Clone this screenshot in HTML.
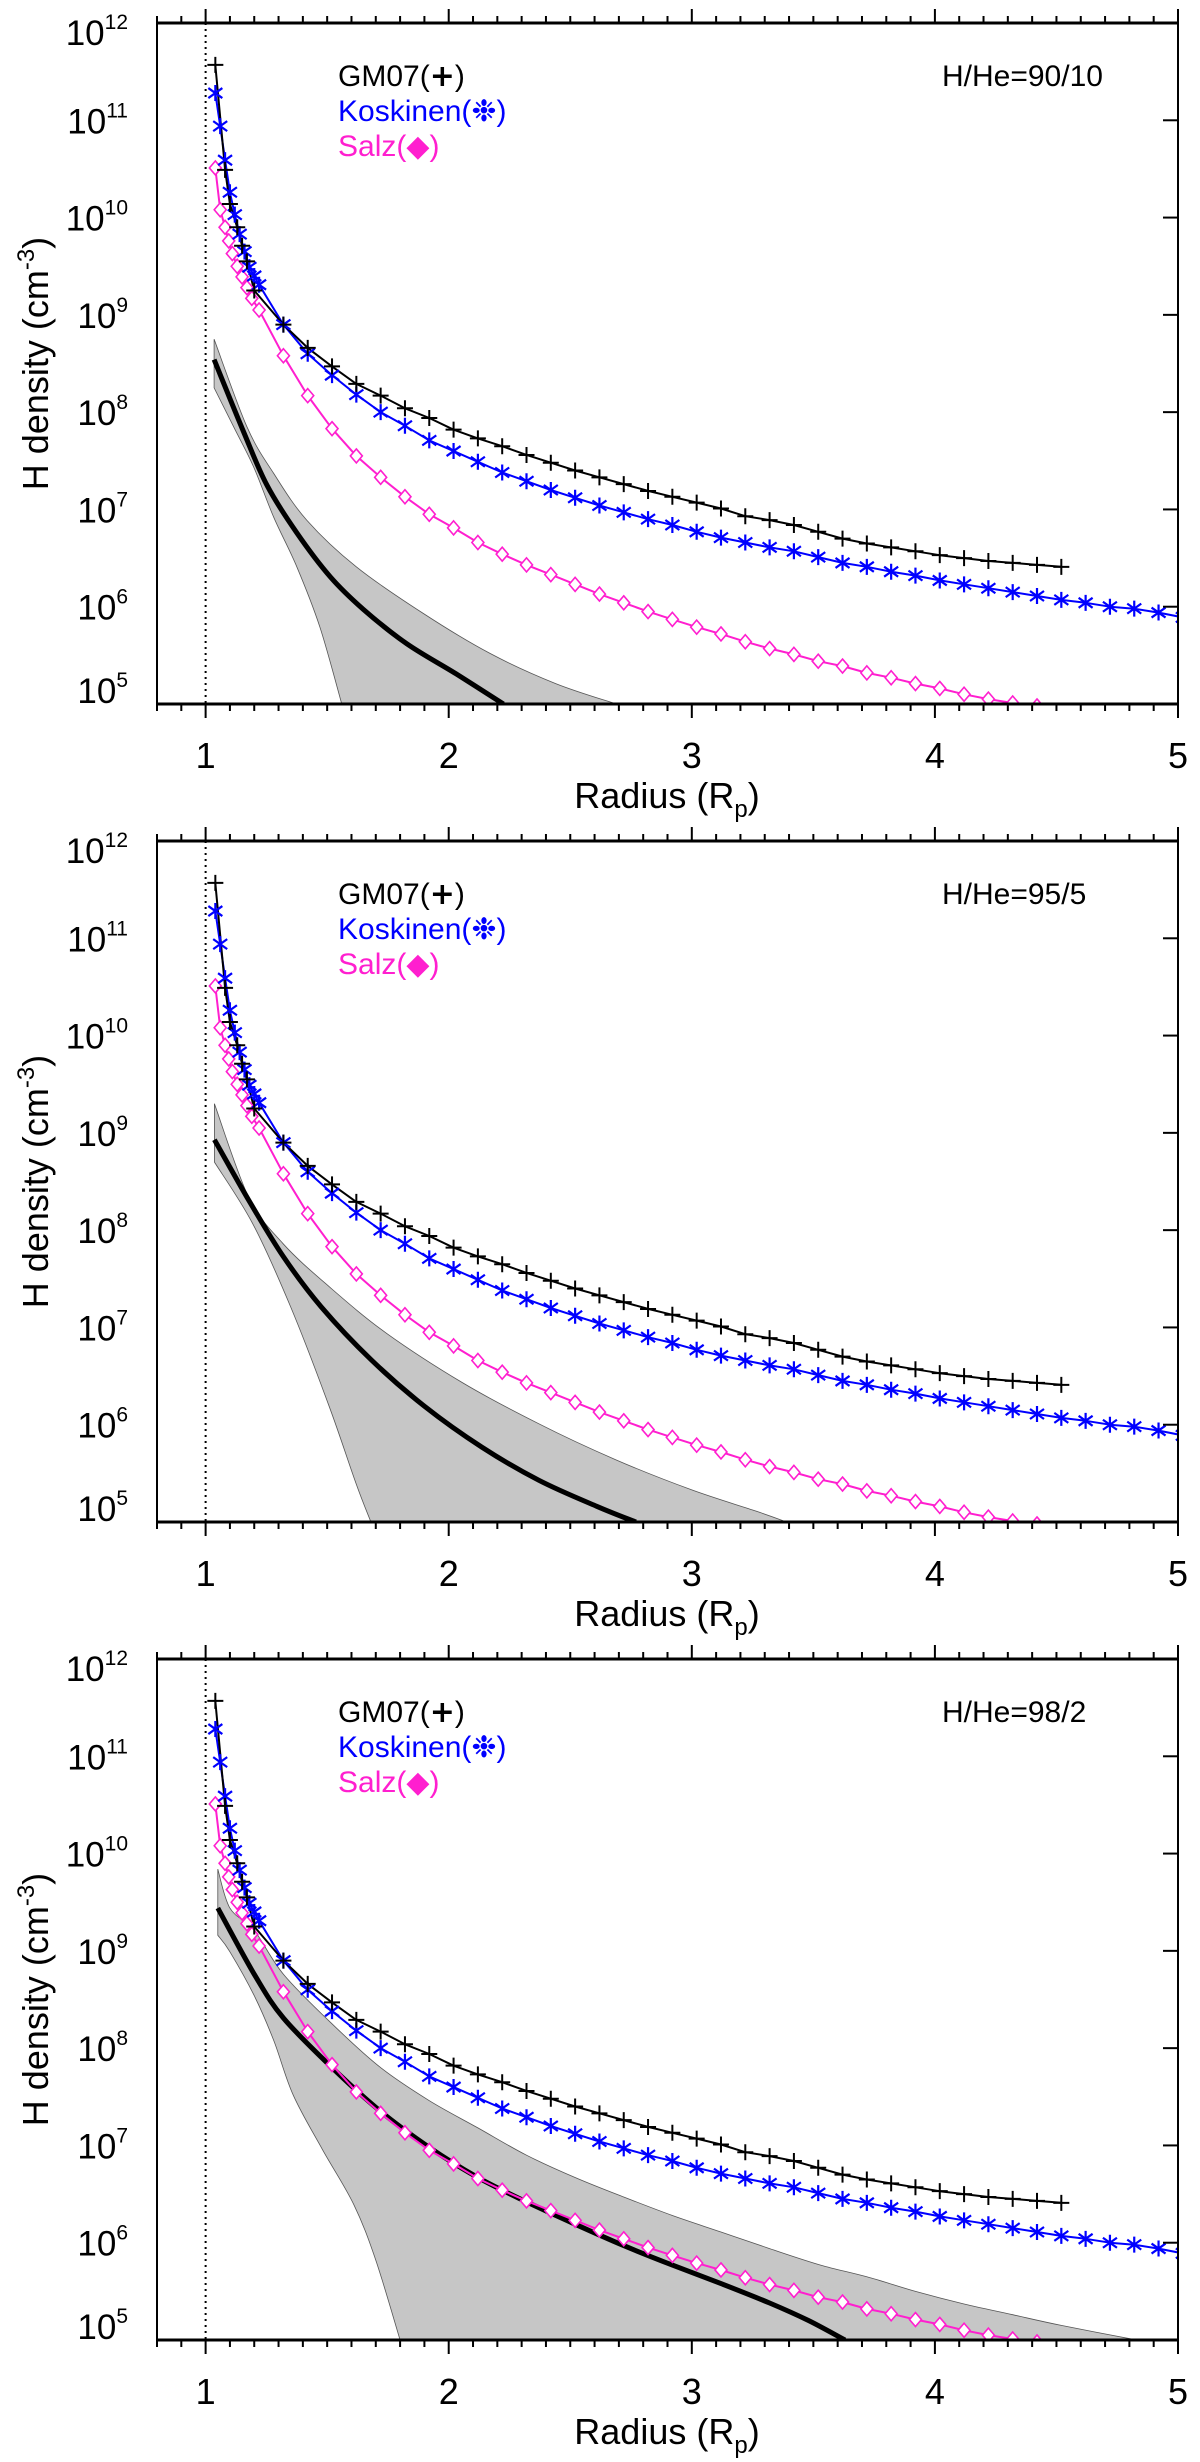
<!DOCTYPE html>
<html><head><meta charset="utf-8"><style>
html,body{margin:0;padding:0;background:#fff;}
svg{display:block;font-family:"Liberation Sans",sans-serif;}
</style></head><body>
<svg id="chart" width="1200" height="2462" viewBox="0 0 1200 2462" xmlns="http://www.w3.org/2000/svg"></svg>
<script>
// ---- shared model data (x = radius in Rp, y = log10 density) ----
const gmX = [1.04,1.08,1.10,1.13,1.15,1.17,1.20,1.32,1.42,1.52,1.62,1.72,1.82,1.92,2.02,2.12,2.22,2.32,2.42,2.52,2.62,2.72,2.82,2.92,3.02,3.12,3.22,3.32,3.42,3.52,3.62,3.72,3.82,3.92,4.02,4.12,4.22,4.32,4.42,4.52];
const gmY = [11.57,10.49,10.14,9.9,9.71,9.55,9.25,8.9,8.66,8.47,8.29,8.17,8.04,7.94,7.82,7.73,7.65,7.56,7.48,7.4,7.33,7.26,7.19,7.13,7.07,7.01,6.93,6.89,6.84,6.77,6.70,6.65,6.61,6.57,6.53,6.5,6.47,6.45,6.43,6.41];
const koX = [1.04,1.06,1.08,1.10,1.12,1.14,1.16,1.18,1.20,1.22,1.32,1.42,1.52,1.62,1.72,1.82,1.92,2.02,2.12,2.22,2.32,2.42,2.52,2.62,2.72,2.82,2.92,3.02,3.12,3.22,3.32,3.42,3.52,3.62,3.72,3.82,3.92,4.02,4.12,4.22,4.32,4.42,4.52,4.62,4.72,4.82,4.92,5.02];
const koY = [11.28,10.94,10.59,10.26,10.03,9.83,9.65,9.49,9.40,9.31,8.90,8.6,8.38,8.18,8.0,7.86,7.71,7.60,7.49,7.38,7.29,7.2,7.12,7.04,6.97,6.9,6.84,6.77,6.71,6.66,6.61,6.57,6.51,6.45,6.41,6.36,6.32,6.27,6.23,6.19,6.15,6.11,6.07,6.04,6.0,5.98,5.94,5.89];
const saX = [1.04,1.06,1.08,1.095,1.11,1.13,1.15,1.17,1.19,1.22,1.32,1.42,1.52,1.62,1.72,1.82,1.92,2.02,2.12,2.22,2.32,2.42,2.52,2.62,2.72,2.82,2.92,3.02,3.12,3.22,3.32,3.42,3.52,3.62,3.72,3.82,3.92,4.02,4.12,4.22,4.32,4.42];
const saY = [10.51,10.08,9.9,9.76,9.63,9.5,9.39,9.28,9.17,9.05,8.58,8.17,7.83,7.55,7.33,7.13,6.95,6.81,6.66,6.54,6.43,6.33,6.23,6.13,6.04,5.95,5.87,5.79,5.72,5.64,5.57,5.51,5.44,5.39,5.32,5.27,5.21,5.16,5.10,5.05,5.01,4.98];
// ---- per-panel fit curve and uncertainty band ----
const p1CurveX = [1.035,1.156,1.252,1.375,1.512,1.65,1.827,2.03,2.225];
const p1CurveY = [8.54,7.80,7.25,6.76,6.31,5.97,5.62,5.31,5.0];
const p1UpX = [1.035,1.17,1.28,1.416,1.62,1.896,2.17,2.44,2.69];
const p1UpY = [8.75,7.85,7.37,6.89,6.41,5.93,5.52,5.21,5.0];
const p1LoX = [1.035,1.115,1.197,1.28,1.375,1.47,1.56];
const p1LoY = [8.25,7.85,7.44,6.92,6.41,5.79,5.0];
const p2CurveX = [1.036,1.177,1.319,1.476,1.68,1.90,2.136,2.37,2.61,2.77];
const p2CurveY = [8.93,8.31,7.73,7.21,6.67,6.19,5.77,5.43,5.16,5.0];
const p2UpX = [1.036,1.177,1.319,1.508,1.744,2.058,2.37,2.687,3.0,3.266,3.39];
const p2UpY = [9.30,8.34,7.86,7.42,6.94,6.43,6.01,5.64,5.33,5.11,5.0];
const p2LoX = [1.036,1.193,1.35,1.508,1.618,1.68];
const p2LoY = [8.70,8.07,7.21,6.19,5.40,5.0];
const p3CurveX = [1.05,1.2,1.32,1.52,1.72,1.92,2.12,2.32,2.52,2.72,2.92,3.12,3.32,3.48,3.63];
const p3CurveY = [9.44,8.76,8.31,7.8,7.35,6.98,6.67,6.42,6.19,5.97,5.77,5.58,5.38,5.2,5.0];
const p3UpX = [1.05,1.1,1.2,1.32,1.52,1.72,1.92,2.12,2.32,2.52,2.72,2.92,3.12,3.32,3.53,3.72,3.92,4.12,4.32,4.52,4.83];
const p3UpY = [9.84,9.44,9.21,8.76,8.25,7.8,7.46,7.18,6.9,6.67,6.47,6.28,6.11,5.94,5.77,5.65,5.5,5.37,5.26,5.15,5.0];
const p3LoX = [1.05,1.1,1.2,1.28,1.36,1.48,1.61,1.7,1.8];
const p3LoY = [9.16,8.99,8.54,8.08,7.52,6.96,6.39,5.82,5.0];
const panelLabels = ["H/He=90/10","H/He=95/5","H/He=98/2"];
const xTicks = [1,2,3,4,5];
const yTicks = [5,6,7,8,9,10,11,12];

const NS="http://www.w3.org/2000/svg";
const svg=document.getElementById('chart');
const L=157,R=1178,PH=681,X0=0.8,X1=5.0,Y0=5,Y1=12;
const tops=[23,841,1659];
function mk(tag,attrs,parent){const e=document.createElementNS(NS,tag);for(const k in attrs)e.setAttribute(k,attrs[k]);(parent||svg).appendChild(e);return e;}
function xs(v){return L+(v-X0)/(X1-X0)*(R-L);}
function smooth(pts,cont){
  let d=(cont?'L':'M')+pts[0][0].toFixed(1)+','+pts[0][1].toFixed(1);
  for(let i=0;i<pts.length-1;i++){
    const p0=pts[i-1]||pts[i],p1=pts[i],p2=pts[i+1],p3=pts[i+2]||p2;
    const c1=[p1[0]+(p2[0]-p0[0])/6,p1[1]+(p2[1]-p0[1])/6];
    const c2=[p2[0]-(p3[0]-p1[0])/6,p2[1]-(p3[1]-p1[1])/6];
    d+='C'+c1[0].toFixed(1)+','+c1[1].toFixed(1)+' '+c2[0].toFixed(1)+','+c2[1].toFixed(1)+' '+p2[0].toFixed(1)+','+p2[1].toFixed(1);
  }
  return d;
}

const panels=[
 {cx:p1CurveX,cy:p1CurveY,ux:p1UpX,uy:p1UpY,lx:p1LoX,ly:p1LoY},
 {cx:p2CurveX,cy:p2CurveY,ux:p2UpX,uy:p2UpY,lx:p2LoX,ly:p2LoY},
 {cx:p3CurveX,cy:p3CurveY,ux:p3UpX,uy:p3UpY,lx:p3LoX,ly:p3LoY}];

panels.forEach((p,i)=>{
  const T=tops[i],B=T+PH;
  const ys=v=>B-(v-Y0)/(Y1-Y0)*PH;
  const g=mk('g',{});
  
  
  const cp=mk('clipPath',{id:'clip'+i},g);
  mk('rect',{x:L,y:T,width:R-L,height:PH},cp);
  const plot=mk('g',{'clip-path':'url(#clip'+i+')'},g);
  const up=p.ux.map((x,k)=>[xs(x),ys(p.uy[k])]);
  const lo=p.lx.map((x,k)=>[xs(x),ys(p.ly[k])]).reverse();
  let d=smooth(up,false);
  d+='L'+up[up.length-1][0].toFixed(1)+','+(B+3)+'L'+lo[0][0].toFixed(1)+','+(B+3);
  d+=smooth(lo,true)+'Z';
  const band=mk('path',{d:d,fill:'#c6c6c6',stroke:'#555',"stroke-width":0.8},plot);
  
  
  const dl=mk('line',{x1:xs(1),x2:xs(1),y1:T,y2:B,stroke:'#000',"stroke-width":2,"stroke-dasharray":"2,4"},g);
  
  
  function line(xa,ya,color,w,name){
    const pts=xa.map((x,k)=>xs(x).toFixed(1)+','+ys(ya[k]).toFixed(1)).join(' ');
    const pl=mk('polyline',{points:pts,fill:'none',stroke:color,"stroke-width":w,"stroke-linejoin":"round"},plot);
    
    
  }
  const fc=mk('path',{d:smooth(p.cx.map((x,k)=>[xs(x),ys(p.cy[k])]),false),fill:'none',stroke:'#000',"stroke-width":5},plot);
  
  
  line(saX,saY,'#ff1fcf',2,'salz-line');
  line(koX,koY,'#0000ff',2,'koskinen-line');
  line(gmX,gmY,'#000',2,'gm07-line');
  saX.forEach((x,k)=>{const X=xs(x),Y=ys(saY[k]);
    const m=mk('path',{d:`M${X},${Y-7}L${X+6},${Y}L${X},${Y+7}L${X-6},${Y}Z`,fill:'#fff',stroke:'#ff1fcf',"stroke-width":1.6},plot);
    
    });
  koX.forEach((x,k)=>{const X=xs(x),Y=ys(koY[k]);
    const m=mk('path',{d:`M${X},${Y-8}L${X},${Y+8}M${X-7},${Y-5}L${X+7},${Y+5}M${X-7},${Y+5}L${X+7},${Y-5}`,stroke:'#0000ff',"stroke-width":2.2},plot);
    
    });
  gmX.forEach((x,k)=>{const X=xs(x),Y=ys(gmY[k]);
    const m=mk('path',{d:`M${X},${Y-8}L${X},${Y+8}M${X-8},${Y}L${X+8},${Y}`,stroke:'#000',"stroke-width":2},plot);
    
    });
  mk('line',{x1:L,x2:R,y1:T,y2:T,stroke:'#000',"stroke-width":3},g);
  mk('line',{x1:L,x2:R,y1:B,y2:B,stroke:'#000',"stroke-width":3},g);
  mk('line',{x1:L,x2:L,y1:T,y2:B,stroke:'#000',"stroke-width":2},g);
  mk('line',{x1:R,x2:R,y1:T,y2:B,stroke:'#000',"stroke-width":2},g);
  for(let v=8;v<=50;v++){const X=xs(v/10),maj=v%10===0,len=maj?14:7;
    mk('line',{x1:X,x2:X,y1:B,y2:B+len,stroke:'#000',"stroke-width":2},g);
    mk('line',{x1:X,x2:X,y1:T,y2:T-len,stroke:'#000',"stroke-width":2},g);}
  xTicks.forEach(v=>{const t=mk('text',{x:xs(v),y:B+64,"font-size":36,"text-anchor":"middle"},g);t.textContent=v;
    
    });
  yTicks.forEach(v=>{const Y=ys(v);
    mk('line',{x1:R-15,x2:R,y1:Y,y2:Y,stroke:'#000',"stroke-width":2},g);
    const by=v===5?Y-1:(v===12?Y+22:Y+13);
    const t=mk('text',{x:128,y:by,"font-size":35,"text-anchor":"end"},g);
    
    
    const a=mk('tspan',{},t);a.textContent='10';
    const s=mk('tspan',{dy:-16,"font-size":21},t);s.textContent=v;});
  const xt=mk('text',{x:667,y:B+104,"font-size":36,"text-anchor":"middle"},g);
  
  
  mk('tspan',{},xt).textContent='Radius (R';
  mk('tspan',{dy:9,"font-size":24},xt).textContent='p';
  mk('tspan',{dy:-9},xt).textContent=')';
  const yt=mk('text',{transform:`translate(48,${T+PH/2}) rotate(-90)`,"font-size":36,"text-anchor":"middle"},g);
  
  
  mk('tspan',{},yt).textContent='H density (cm';
  mk('tspan',{dy:-14,"font-size":24},yt).textContent='-3';
  mk('tspan',{dy:14},yt).textContent=')';
  const leg=[['GM07(','+',')','#000'],['Koskinen(','\u2749',')','#0000ff'],['Salz(','\u25C6',')','#ff1fcf']];
  leg.forEach((e,k)=>{const t=mk('text',{x:338,y:T+63+k*35,"font-size":30,fill:e[3]},g);
    
    
    mk('tspan',{},t).textContent=e[0];
    mk('tspan',{"font-weight":"bold","font-family":"DejaVu Sans, sans-serif"},t).textContent=e[1];
    mk('tspan',{},t).textContent=e[2];});
  const pl=mk('text',{x:942,y:T+63,"font-size":30},g);
  pl.textContent=panelLabels[i];
  
  
});
</script>
</body></html>
